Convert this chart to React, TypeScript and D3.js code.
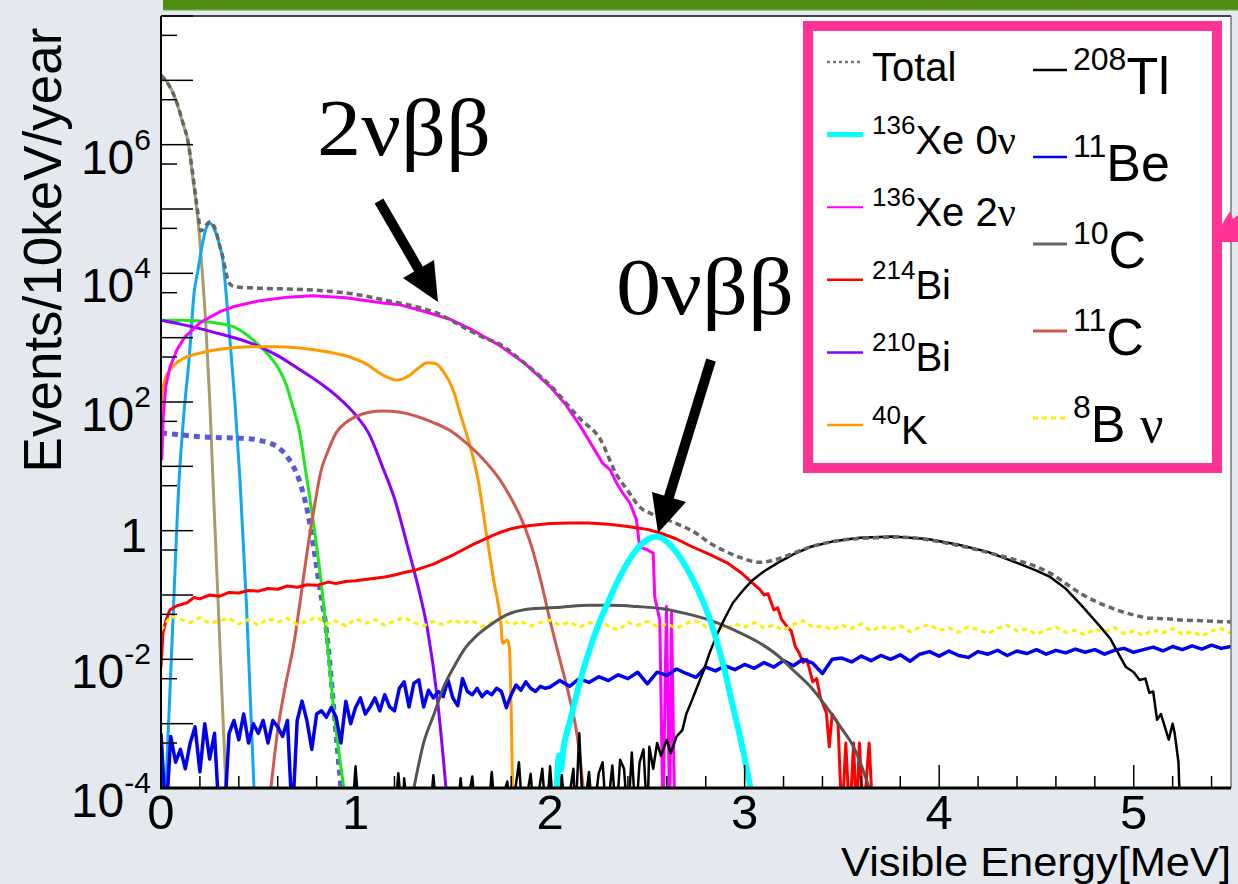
import * as d3 from "d3";

type Pt = [number, number]; // [visible energy MeV, log10(events / 10keV / year)]

const W = 1238;
const H = 884;
const L = 161, R = 1231, T = 16, B = 788;

const yLabelExponents = [-4, -2, 0, 2, 4, 6];
const xTickLabels = [0, 1, 2, 3, 4, 5];

// ---- curves (values are log10 of events) ----
const total: Pt[] = [
  [0, 7.08], [0.04, 6.93], [0.077, 6.69], [0.11, 6.37], [0.14, 6.03], [0.165, 5.5], [0.19, 4.93],
  [0.205, 4.66], [0.225, 4.72], [0.252, 4.8], [0.28, 4.68], [0.3, 4.45], [0.318, 4.25], [0.335, 4.0],
  [0.35, 3.85], [0.38, 3.79], [0.5, 3.77], [0.78, 3.74], [1.03, 3.66], [1.14, 3.59], [1.3, 3.49],
  [1.42, 3.38], [1.55, 3.17], [1.65, 3.01], [1.74, 2.9], [1.87, 2.6], [2.0, 2.26], [2.15, 1.75],
  [2.26, 1.41], [2.34, 0.88], [2.4, 0.62], [2.46, 0.37], [2.53, 0.25], [2.65, 0.11], [2.75, -0.04],
  [2.82, -0.19], [2.9, -0.32], [2.98, -0.42], [3.08, -0.49], [3.17, -0.44], [3.25, -0.35], [3.34, -0.25],
  [3.42, -0.19], [3.55, -0.13], [3.68, -0.11], [3.8, -0.1], [3.94, -0.14], [4.05, -0.2], [4.2, -0.3],
  [4.3, -0.38], [4.4, -0.46], [4.5, -0.56], [4.57, -0.66], [4.65, -0.82], [4.74, -1.0], [4.82, -1.12],
  [4.91, -1.23], [5.0, -1.31], [5.08, -1.36], [5.17, -1.37], [5.25, -1.39], [5.35, -1.4], [5.42, -1.41],
  [5.5, -1.42],
];

const xe136_0v: Pt[] = [
  [2.035, -4], [2.045, -3.5], [2.055, -3.72], [2.07, -3.36], [2.1, -2.99], [2.14, -2.5], [2.187, -2.0],
  [2.25, -1.45], [2.31, -1.03], [2.37, -0.65], [2.43, -0.35], [2.49, -0.16], [2.547, -0.09], [2.6, -0.17],
  [2.66, -0.38], [2.735, -0.77], [2.8, -1.2], [2.855, -1.7], [2.9, -2.2], [2.94, -2.74], [2.98, -3.25],
  [3.03, -4],
];

const xe136_2v: Pt[] = [
  [0.004, 1.1], [0.012, 1.8], [0.025, 2.25], [0.046, 2.54], [0.08, 2.8], [0.12, 3.0], [0.2, 3.23],
  [0.3, 3.4], [0.37, 3.48], [0.5, 3.57], [0.65, 3.63], [0.78, 3.65], [0.95, 3.62], [1.14, 3.54],
  [1.23, 3.51], [1.35, 3.41], [1.49, 3.28], [1.6, 3.12], [1.74, 2.88], [1.87, 2.6], [2.0, 2.24],
  [2.08, 1.96], [2.15, 1.65], [2.21, 1.35], [2.27, 1.05], [2.31, 0.94], [2.34, 0.75], [2.37, 0.6],
  [2.41, 0.43], [2.444, 0.17], [2.46, -0.25], [2.5, -0.3], [2.53, -0.35], [2.538, -1.03], [2.564, -1.39],
  [2.58, -4.5], [2.598, -1.18], [2.615, -4.5], [2.624, -1.28], [2.641, -4.5],
];

const bi214: Pt[] = [
  [0, -2.12], [0.01, -1.59], [0.025, -1.4], [0.046, -1.23], [0.08, -1.17], [0.134, -1.12], [0.17, -1.04],
  [0.2, -1.06], [0.25, -1.0], [0.3, -1.02], [0.35, -0.96], [0.4, -0.97], [0.45, -0.93], [0.5, -0.94],
  [0.55, -0.9], [0.6, -0.91], [0.65, -0.86], [0.7, -0.88], [0.75, -0.84], [0.8, -0.85], [0.86, -0.8],
  [0.9, -0.82], [0.95, -0.79], [1.0, -0.78], [1.05, -0.76], [1.1, -0.74], [1.15, -0.72], [1.2, -0.69],
  [1.25, -0.65], [1.3, -0.62], [1.35, -0.57], [1.4, -0.52], [1.45, -0.45], [1.5, -0.38], [1.55, -0.3],
  [1.6, -0.22], [1.65, -0.15], [1.7, -0.08], [1.75, -0.02], [1.8, 0.03], [1.85, 0.06], [1.9, 0.08],
  [2.0, 0.11], [2.1, 0.12], [2.2, 0.12], [2.3, 0.1], [2.39, 0.07], [2.45, 0.04], [2.5, 0.02],
  [2.57, -0.04], [2.65, -0.13], [2.73, -0.25], [2.82, -0.37], [2.91, -0.5], [2.98, -0.65], [3.04, -0.81],
  [3.08, -0.92], [3.1, -1.0], [3.12, -0.98], [3.15, -1.23], [3.17, -1.2], [3.19, -1.38], [3.22, -1.5],
  [3.24, -1.56], [3.26, -1.8], [3.28, -1.9], [3.3, -2.05], [3.32, -2.0], [3.35, -2.35], [3.37, -2.3],
  [3.39, -2.6], [3.42, -2.83], [3.435, -3.36], [3.45, -2.85], [3.48, -3.0],
  [3.5, -4.5], [3.52, -3.3], [3.54, -4.5], [3.56, -3.3], [3.575, -4.5], [3.59, -3.3], [3.61, -4.5],
  [3.64, -3.3], [3.66, -4.5],
];

const bi210: Pt[] = [
  [0, 3.27], [0.1, 3.21], [0.2, 3.14], [0.3, 3.06], [0.457, 2.92], [0.6, 2.72], [0.714, 2.5],
  [0.8, 2.33], [0.9, 2.1], [1.0, 1.8], [1.07, 1.5], [1.14, 0.98], [1.2, 0.5], [1.268, -0.25],
  [1.32, -0.85], [1.37, -1.54], [1.42, -2.6], [1.465, -4],
];

const k40: Pt[] = [
  [0, 1.77], [0.005, 2.1], [0.02, 2.35], [0.046, 2.5], [0.1, 2.65], [0.2, 2.76], [0.3, 2.82],
  [0.46, 2.86], [0.6, 2.86], [0.71, 2.84], [0.85, 2.78], [0.97, 2.7], [1.05, 2.6], [1.14, 2.42],
  [1.21, 2.34], [1.27, 2.4], [1.32, 2.52], [1.37, 2.61], [1.41, 2.6], [1.45, 2.48], [1.5, 2.2],
  [1.54, 1.8], [1.59, 1.3], [1.63, 0.79], [1.67, 0.0], [1.71, -0.77], [1.747, -1.44], [1.756, -1.75],
  [1.78, -1.7], [1.79, -1.8], [1.807, -4],
];

const tl208: Pt[] = [
  [0.9, -4.5], [0.98, -4.5], [1.0, -3.67], [1.02, -4.5], [1.2, -4.5], [1.22, -3.77], [1.24, -4.5],
  [1.25, -3.85], [1.27, -4.5], [1.38, -4.5], [1.4, -3.8], [1.42, -4.5], [1.52, -4.5], [1.54, -3.85],
  [1.56, -4.5], [1.6, -3.82], [1.62, -4.5], [1.68, -4.5], [1.7, -3.75], [1.72, -4.5], [1.78, -3.9],
  [1.8, -4.5], [1.84, -3.6], [1.86, -4.5], [1.9, -3.78], [1.92, -4.5], [1.96, -3.7], [1.98, -4.5],
  [2.0, -3.67], [2.02, -4.5], [2.06, -3.8], [2.08, -4.5], [2.12, -3.7], [2.13, -4.5], [2.15, -3.15],
  [2.17, -4.5], [2.2, -3.75], [2.22, -4.5], [2.25, -3.77], [2.27, -3.6], [2.29, -4.5], [2.32, -3.65],
  [2.34, -4.5], [2.36, -3.56], [2.38, -3.7], [2.4, -4.5], [2.42, -3.45], [2.44, -4.5], [2.46, -3.6],
  [2.48, -3.4], [2.5, -4.5], [2.51, -3.36], [2.53, -3.7], [2.55, -3.3], [2.57, -3.5], [2.6, -3.25],
  [2.62, -3.46], [2.65, -3.2], [2.68, -3.1], [2.7, -2.85], [2.73, -2.63], [2.76, -2.4], [2.79, -2.17],
  [2.82, -1.9], [2.86, -1.6], [2.9, -1.35], [2.94, -1.12], [3.0, -0.9], [3.04, -0.77], [3.1, -0.63],
  [3.17, -0.5], [3.25, -0.37], [3.34, -0.25], [3.45, -0.17], [3.59, -0.11], [3.76, -0.09], [3.94, -0.13],
  [4.1, -0.22], [4.25, -0.33], [4.4, -0.5], [4.5, -0.62], [4.57, -0.72], [4.65, -0.9], [4.74, -1.19],
  [4.83, -1.5], [4.88, -1.68], [4.91, -1.85], [4.96, -2.12], [5.0, -2.2], [5.03, -2.32], [5.06, -2.3],
  [5.08, -2.52], [5.1, -2.5], [5.12, -2.94], [5.14, -2.85], [5.16, -3.05], [5.18, -3.25], [5.2, -3.0],
  [5.21, -3.14], [5.23, -3.6], [5.24, -4.5],
];

// 11Be: two binnings (fine below 2 MeV, coarser above)
const be11LowStart = 0, be11LowStep = 0.025;
const be11Low = [
  -3.15, -4.5, -3.2, -3.6, -3.4, -3.7, -3.3, -3.05, -3.75, -3.0, -3.55, -3.15, -4.5, -4.5, -3.15, -2.95,
  -3.25, -2.85, -3.3, -3.0, -3.15, -2.95, -3.3, -2.95, -3.05, -3.2, -2.95, -4.5, -2.95, -2.65, -2.95, -3.4,
  -2.85, -2.8, -2.9, -2.75, -2.9, -3.3, -2.65, -3.0, -2.75, -2.6, -2.85, -2.74, -2.6, -2.8, -2.55, -2.74,
  -2.8, -2.45, -2.35, -2.74, -2.37, -2.32, -2.74, -2.48, -2.6, -2.5, -2.58, -2.32, -2.6, -2.72, -2.3, -2.5,
  -2.55, -2.45, -2.58, -2.5, -2.55, -2.45, -2.5, -2.75, -2.55, -2.4, -2.48, -2.35, -2.45, -2.5, -2.42, -2.45,
  -2.43,
];
const be11HighStart = 2.05, be11HighStep = 0.05;
const be11High = [
  -2.33, -2.42, -2.3, -2.36, -2.27, -2.33, -2.24, -2.3, -2.2, -2.38, -2.2, -2.25, -2.15, -2.22, -2.28, -2.12,
  -2.18, -2.1, -2.16, -2.08, -2.14, -2.05, -2.12, -2.02, -2.1, -2.0, -2.06, -2.22, -2.0, -1.98, -2.04, -1.95,
  -2.02, -1.94, -2.0, -1.93, -2.03, -1.92, -1.88, -1.95, -1.87, -1.94, -1.97, -1.88, -1.92, -1.86, -1.94, -1.87,
  -1.91, -1.85, -1.92, -1.86, -1.9, -1.84, -1.89, -1.85, -1.92, -1.86, -1.83, -1.89, -1.85, -1.81, -1.87, -1.8,
  -1.85, -1.79, -1.84, -1.78, -1.83, -1.8,
];

const c10: Pt[] = [
  [1.3, -4], [1.35, -3.3], [1.405, -2.84], [1.45, -2.45], [1.507, -2.11], [1.56, -1.84], [1.627, -1.62],
  [1.7, -1.45], [1.8, -1.28], [1.92, -1.21], [2.055, -1.19], [2.2, -1.16], [2.31, -1.16], [2.45, -1.18],
  [2.57, -1.21], [2.7, -1.29], [2.82, -1.39], [2.95, -1.55], [3.08, -1.75], [3.17, -1.94], [3.25, -2.17],
  [3.34, -2.43], [3.42, -2.74], [3.5, -3.08], [3.56, -3.36], [3.6, -3.65], [3.64, -4],
];

const c11: Pt[] = [
  [0.565, -4], [0.6, -3.1], [0.64, -2.4], [0.68, -1.81], [0.72, -1.0], [0.755, -0.25], [0.79, 0.4],
  [0.82, 0.9], [0.86, 1.25], [0.9, 1.52], [0.95, 1.68], [1.0, 1.77], [1.07, 1.84], [1.14, 1.86],
  [1.23, 1.84], [1.32, 1.77], [1.4, 1.68], [1.49, 1.55], [1.57, 1.36], [1.65, 1.13], [1.74, 0.8],
  [1.8, 0.5], [1.85, 0.2], [1.9, -0.2], [1.95, -0.75], [2.0, -1.4], [2.05, -2.0], [2.1, -2.6],
  [2.14, -3.2], [2.17, -4],
];

const b8Start = 0, b8Step = 0.05;
const b8 = [
  -1.55, -1.33, -1.38, -1.43, -1.35, -1.44, -1.4, -1.36, -1.45, -1.38, -1.47, -1.37, -1.42, -1.36, -1.46, -1.41,
  -1.34, -1.45, -1.4, -1.48, -1.37, -1.44, -1.38, -1.47, -1.4, -1.35, -1.43, -1.48, -1.41, -1.46, -1.39, -1.44,
  -1.4, -1.49, -1.42, -1.37, -1.46, -1.41, -1.48, -1.43, -1.39, -1.47, -1.42, -1.5, -1.44, -1.4, -1.48, -1.55,
  -1.43, -1.47, -1.41, -1.49, -1.45, -1.52, -1.44, -1.4, -1.49, -1.46, -1.53, -1.45, -1.5, -1.43, -1.51, -1.47,
  -1.55, -1.46, -1.4, -1.5, -1.48, -1.54, -1.47, -1.52, -1.45, -1.56, -1.49, -1.53, -1.48, -1.57, -1.5, -1.46,
  -1.55, -1.51, -1.58, -1.49, -1.54, -1.6, -1.52, -1.47, -1.56, -1.53, -1.61, -1.54, -1.5, -1.58, -1.55, -1.62,
  -1.53, -1.57, -1.51, -1.6, -1.56, -1.63, -1.54, -1.59, -1.52, -1.61, -1.57, -1.64, -1.56, -1.52, -1.6,
];

// components without a legend entry
const tanLowE: Pt[] = [
  [0, 7.08], [0.04, 6.93], [0.077, 6.69], [0.11, 6.35], [0.14, 6.03], [0.165, 5.45], [0.19, 4.83],
  [0.21, 4.1], [0.231, 3.17], [0.25, 2.05], [0.267, 0.79], [0.29, -0.85], [0.31, -2.3], [0.334, -4],
];
const skyPeak: Pt[] = [
  [0.025, -4], [0.06, -1.5], [0.093, 0.79], [0.12, 1.9], [0.144, 2.65], [0.17, 3.69], [0.19, 4.05],
  [0.205, 4.32], [0.23, 4.68], [0.252, 4.78], [0.275, 4.68], [0.3, 4.45], [0.318, 4.2], [0.344, 3.35],
  [0.36, 2.75], [0.38, 2.0], [0.406, 0.79], [0.44, -1.2], [0.478, -4],
];
const slateDotted: Pt[] = [
  [0, 1.52], [0.1, 1.49], [0.2, 1.46], [0.37, 1.44], [0.45, 1.43], [0.51, 1.4], [0.56, 1.36],
  [0.6, 1.3], [0.66, 1.1], [0.71, 0.79], [0.755, 0.27], [0.81, -0.77], [0.86, -1.81], [0.89, -2.83],
  [0.925, -4],
];
const greenLowE: Pt[] = [
  [0, 3.27], [0.1, 3.27], [0.2, 3.26], [0.3, 3.22], [0.37, 3.17], [0.43, 3.07], [0.49, 2.92],
  [0.55, 2.74], [0.6, 2.54], [0.64, 2.3], [0.68, 1.9], [0.71, 1.57], [0.745, 0.9], [0.78, 0.2],
  [0.822, -0.77], [0.86, -1.9], [0.89, -2.84], [0.94, -4],
];

const binned = (start: number, step: number, vals: number[]): Pt[] =>
  vals.map((v, i) => [start + i * step, v] as Pt);

const be11: Pt[] = [...binned(be11LowStart, be11LowStep, be11Low), ...binned(be11HighStart, be11HighStep, be11High)];
const b8nu: Pt[] = binned(b8Start, b8Step, b8);

const FONT = "'Liberation Sans', Arial, Helvetica, sans-serif";
const SERIF = "'Liberation Serif', 'Times New Roman', serif";
const PINK = "#ff3393";

export default function App() {
  const x = d3.scaleLinear().domain([0, 5.5]).range([L, R]);
  const y = d3.scaleLog().domain([1e-4, 1e8]).range([B, T]);

  const path = (data: Pt[], smooth: boolean) =>
    d3.line<Pt>()
      .x(d => x(d[0]))
      .y(d => y(Math.pow(10, d[1])))
      .curve(smooth ? d3.curveMonotoneX : d3.curveLinear)(data) || "";

  const series = [
    { data: tanLowE, color: "#a89c6e", w: 3, smooth: true },
    { data: skyPeak, color: "#10a8f2", w: 3, smooth: true },
    { data: slateDotted, color: "#5a5ad6", w: 5, dash: "6,5", smooth: true },
    { data: greenLowE, color: "#1de81d", w: 3, smooth: true },
    { data: bi210, color: "#8a00ff", w: 3, smooth: true },
    { data: k40, color: "#ff9900", w: 3, smooth: true },
    { data: c11, color: "#cc5a50", w: 3, smooth: true },
    { data: xe136_2v, color: "#ff00ff", w: 3, smooth: false },
    { data: bi214, color: "#ff0000", w: 3, smooth: false },
    { data: b8nu, color: "#ffee00", w: 3, dash: "5,4", smooth: false },
    { data: be11, color: "#0000ee", w: 3.5, smooth: false },
    { data: c10, color: "#555555", w: 3, smooth: true },
    { data: tl208, color: "#000000", w: 2.5, smooth: false },
    { data: xe136_0v, color: "#00ffff", w: 6, smooth: true },
    { data: total, color: "#666666", w: 3.5, dash: "6,4", smooth: true },
  ];

  const majorY = d3.range(-4, 9).map(e => Math.pow(10, e));
  const minorY = d3.range(-4, 8).map(e => 5 * Math.pow(10, e));
  const xTicks = d3.range(0, 28).map(i => i * 0.2);

  const leftRows = [
    { color: "#777777", w: 2.5, dash: "3,3", sup: "", text: "Total", nu: false },
    { color: "#00ffff", w: 5, sup: "136", text: "Xe 0", nu: true },
    { color: "#ff00ff", w: 2, sup: "136", text: "Xe 2", nu: true },
    { color: "#ff0000", w: 2.5, sup: "214", text: "Bi", nu: false },
    { color: "#8a00ff", w: 2.5, sup: "210", text: "Bi", nu: false },
    { color: "#ff9900", w: 2.5, sup: "40", text: "K", nu: false },
  ];
  const rightRows = [
    { color: "#000000", w: 2.5, sup: "208", text: "Tl", nu: false },
    { color: "#0000ee", w: 2.5, sup: "11", text: "Be", nu: false },
    { color: "#666666", w: 3, sup: "10", text: "C", nu: false },
    { color: "#cc5a50", w: 3, sup: "11", text: "C", nu: false },
    { color: "#ffee00", w: 3, dash: "5,4", sup: "8", text: "B ", nu: true },
  ];

  return (
    <div style={{ position: "absolute", left: 0, top: 0 }}>
      <svg width={W} height={H} style={{ display: "block" }} fontFamily={FONT}>
        <defs>
          <clipPath id="plotClip">
            <rect x={L} y={T} width={R - L} height={B - T} />
          </clipPath>
          <filter id="paper" x="0" y="0" width="100%" height="100%">
            <feTurbulence type="fractalNoise" baseFrequency="0.9" numOctaves="2" seed="3" />
            <feColorMatrix type="matrix" values="0 0 0 0 0.55  0 0 0 0 0.6  0 0 0 0 0.68  0 0 0 0.18 0" />
          </filter>
        </defs>

        {/* backdrop */}
        <rect x={0} y={0} width={W} height={H} fill="#e6ebf1" />
        <rect x={0} y={0} width={W} height={H} filter="url(#paper)" opacity={0.6} />
        <rect x={163} y={0} width={W - 163} height={10} fill="#4f8c10" />
        <rect x={163} y={9} width={W - 163} height={2} fill="#7aa84a" opacity={0.6} />

        {/* plot area */}
        <rect x={L} y={T} width={R - L} height={B - T} fill="#ffffff" />

        <g clipPath="url(#plotClip)" fill="none" strokeLinejoin="round">
          {series.map((s, i) => (
            <path key={i} d={path(s.data, s.smooth)} stroke={s.color} strokeWidth={s.w}
              strokeDasharray={s.dash} />
          ))}
        </g>

        {/* frame */}
        <line x1={L} x2={R} y1={T} y2={T} stroke="#444" strokeWidth={2} />
        <line x1={R} x2={R} y1={T} y2={B} stroke="#777" strokeWidth={1.5} />
        <line x1={L} x2={L} y1={T} y2={B + 1} stroke="#000" strokeWidth={2} />
        <line x1={L - 1} x2={R} y1={B} y2={B} stroke="#000" strokeWidth={3} />

        {/* y ticks */}
        {majorY.map((v, i) => (
          <line key={"ym" + i} x1={L} x2={L + 32} y1={y(v)} y2={y(v)} stroke="#000" strokeWidth={1.5} />
        ))}
        {minorY.map((v, i) => (
          <line key={"yn" + i} x1={L} x2={L + 16} y1={y(v)} y2={y(v)} stroke="#000" strokeWidth={1.5} />
        ))}
        {/* x ticks */}
        {xTicks.map((v, i) => {
          const major = Math.abs(v - Math.round(v)) < 1e-6;
          return (
            <line key={"xt" + i} x1={x(v)} x2={x(v)} y1={B} y2={B - (major ? 23 : 12)}
              stroke="#000" strokeWidth={1.5} />
          );
        })}

        {/* y tick labels */}
        {yLabelExponents.map(e => {
          const yy = y(Math.pow(10, e));
          if (e === 0) {
            return <text key={e} x={147} y={yy + 21} textAnchor="end" fontSize={48}>1</text>;
          }
          return (
            <text key={e} x={151} y={yy + 29} textAnchor="end" fontSize={48}>
              10<tspan fontSize={30} dy={-24}>{e}</tspan>
            </text>
          );
        })}
        {/* x tick labels */}
        {xTickLabels.map(v => (
          <text key={v} x={x(v)} y={829} textAnchor="middle" fontSize={49}>{v}</text>
        ))}

        {/* axis titles */}
        <text x={R} y={876} textAnchor="end" fontSize={41} textLength={390}
          lengthAdjust="spacingAndGlyphs">Visible Energy[MeV]</text>
        <text transform="translate(61,250) rotate(-90)" textAnchor="middle" fontSize={53}>
          Events/10keV/year
        </text>

        {/* annotations */}
        <text x={317} y={155} fontFamily={SERIF} fontSize={80} textLength={174}
          lengthAdjust="spacingAndGlyphs">2νββ</text>
        <text x={616} y={314} fontFamily={SERIF} fontSize={80} textLength={178}
          lengthAdjust="spacingAndGlyphs">0νββ</text>
        <line x1={379} y1={201} x2={422} y2={275} stroke="#000" strokeWidth={10} />
        <polygon points="438,302 403,278 434,260" fill="#000" />
        <line x1={711} y1={360} x2={668} y2={500} stroke="#000" strokeWidth={10} />
        <polygon points="658,533 652,492 686,502" fill="#000" />

        {/* legend */}
        <rect x={808} y={26} width={409} height={442} fill="#ffffff" stroke={PINK} strokeWidth={10} />
        <polygon points="1221,226 1230,211 1233,219 1238,215 1238,242 1221,242" fill={PINK} />
        {leftRows.map((r, i) => {
          const ly = 62 + i * 72.6;
          return (
            <g key={"l" + i}>
              <line x1={827} x2={863} y1={ly} y2={ly} stroke={r.color} strokeWidth={r.w}
                strokeDasharray={r.dash} />
              <text x={872} y={ly + 19} fontSize={40}>
                {r.sup ? <tspan fontSize={26} dy={-20}>{r.sup}</tspan> : null}
                <tspan dy={r.sup ? 20 : 0}>{r.text}</tspan>
                {r.nu ? <tspan fontFamily={SERIF}>ν</tspan> : null}
              </text>
            </g>
          );
        })}
        {rightRows.map((r, i) => {
          const ly = 70 + i * 87;
          return (
            <g key={"r" + i}>
              <line x1={1033} x2={1067} y1={ly} y2={ly} stroke={r.color} strokeWidth={r.w}
                strokeDasharray={r.dash} />
              <text x={1073} y={ly + 24} fontSize={52}>
                <tspan fontSize={32} dy={-24}>{r.sup}</tspan>
                <tspan dy={24}>{r.text}</tspan>
                {r.nu ? <tspan fontFamily={SERIF}>ν</tspan> : null}
              </text>
            </g>
          );
        })}
      </svg>
    </div>
  );
}
